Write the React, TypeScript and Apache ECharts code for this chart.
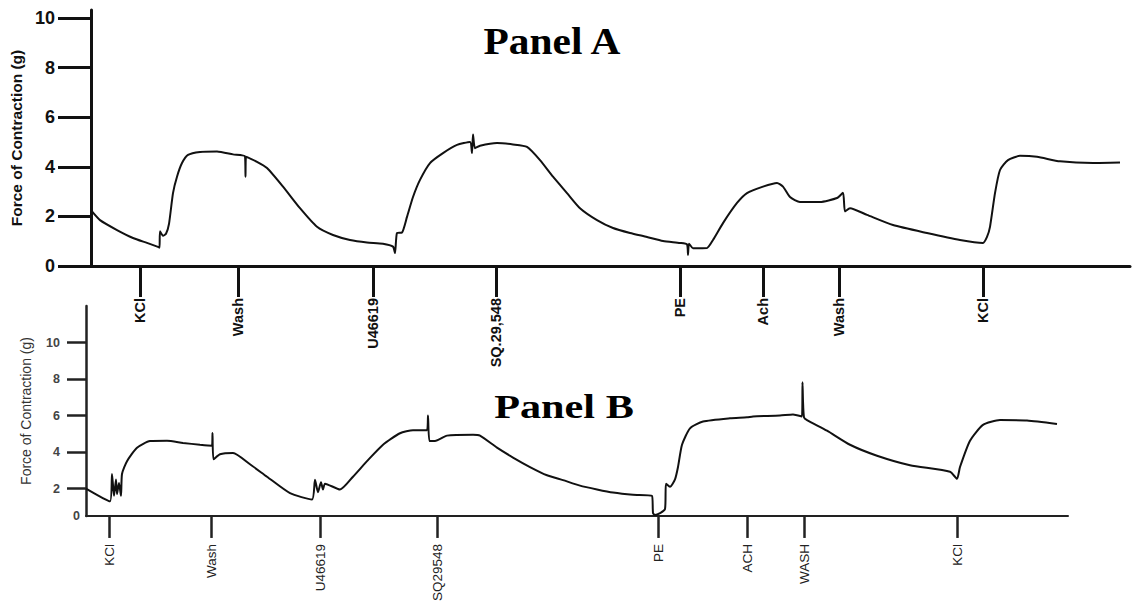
import React, { useEffect, useRef } from "react";
import * as echarts from "echarts";

// ---------- data ----------
const yTicksA = [0, 2, 4, 6, 8, 10];
const yTicksB = [2, 4, 6, 8, 10];
const yBaseB = [0.5]; // baseline of panel B trace axis, labelled "0"

const eventsATime = [4.9, 14.7, 28.2, 40.5, 58.9, 67.2, 74.8, 89.2];
const eventsALabel = ["KCl", "Wash", "U46619", "SQ.29,548", "PE", "Ach", "Wash", "KCl"];
const eventsBTime = [2.3, 12.5, 23.4, 35.1, 57.2, 66.1, 71.8, 87.1];
const eventsBLabel = ["KCl", "Wash", "U46619", "SQ29548", "PE", "ACH", "WASH", "KCl"];

const traceATime = [
  0.1, 0.9, 2.6, 4.2, 5.6, 6.7, 6.85, 6.9, 7.2, 7.5, 7.8, 8.2, 8.6, 9.1, 9.7, 10.9, 12.6, 14.2,
  15.4, 15.45, 15.5, 16.6, 17.6, 19.2, 20.9, 22.6, 24.2, 25.9, 27.6, 29.2, 30.2, 30.4, 30.6, 31.1,
  31.6, 32.2, 32.9, 33.9, 35.2, 36.6, 37.9, 38.1, 38.2, 38.4, 38.9, 40.6, 42.2, 43.6, 44.9, 46.2,
  47.6, 48.9, 50.6, 52.2, 53.9, 55.6, 57.2, 58.9, 59.6, 59.7, 59.8, 60.2, 61.6, 62.2, 63.2, 64.6,
  65.6, 67.2, 68.6, 69.2, 69.9, 70.9, 72.9, 74.6, 75.2, 75.4, 75.9, 77.6, 80.2, 83.6, 86.9, 89.2,
  89.6, 89.9, 90.4, 90.9, 91.7, 92.9, 94.6, 96.9, 100.2, 102.9,
];
const traceAForce = [
  2.2, 1.85, 1.45, 1.13, 0.93, 0.77, 0.74, 1.4, 1.22, 1.3, 1.7, 2.94, 3.6, 4.15, 4.48, 4.6, 4.62, 4.5,
  4.42, 3.6, 4.4, 4.2, 3.95, 3.2, 2.33, 1.58, 1.25, 1.05, 0.95, 0.9, 0.78, 0.52, 1.33, 1.35,
  1.98, 2.78, 3.47, 4.15, 4.55, 4.88, 5.0, 4.55, 5.3, 4.75, 4.85, 4.96, 4.9, 4.8, 4.27, 3.6,
  2.94, 2.33, 1.85, 1.53, 1.33, 1.17, 1.01, 0.93, 0.87, 0.45, 0.9, 0.72, 0.73, 1.05, 1.73, 2.54,
  2.94, 3.2, 3.35, 3.2, 2.78, 2.58, 2.58, 2.74, 2.95, 2.2, 2.33, 2.06, 1.65, 1.33, 1.05, 0.93,
  1.17, 1.58, 2.94, 3.87, 4.27, 4.44, 4.4, 4.22, 4.15, 4.17,
];

const traceBTime = [
  0, 2.4, 2.6, 2.8, 3.0, 3.1, 3.3, 3.5, 3.6, 4.1, 5.1, 6.4, 8.1, 9.7, 11.4, 12.6, 12.65, 12.75,
  13.4, 14.7, 16.4, 18.1, 20.4, 22.6, 22.9, 23.2, 23.5, 23.7, 23.9, 25.4, 26.7, 28.1, 29.7, 31.4,
  32.7, 34.1, 34.2, 34.35, 34.9, 36.1, 38.7, 39.4, 41.1, 42.7, 44.4, 46.1, 47.7, 49.4, 51.1, 52.7,
  54.7, 56.6, 56.7, 56.9, 57.9, 58.0, 58.4, 58.9, 59.2, 59.6, 60.4, 61.7, 64.4, 66.1, 66.7, 69.4,
  70.7, 71.6, 71.65, 71.7, 71.8, 72.1, 74.1, 76.4, 79.1, 82.4, 86.4, 87.1, 87.4, 88.4, 89.7, 91.4,
  94.1, 97.1,
];
const traceBForce = [
  2.0, 1.3, 2.8, 1.6, 2.5, 1.7, 2.3, 1.6, 2.8, 3.5, 4.24, 4.6, 4.62, 4.5, 4.4, 4.35, 5.05, 3.6,
  3.88, 3.95, 3.33, 2.65, 1.75, 1.4, 2.48, 1.8, 2.35, 1.95, 2.27, 1.95, 2.65, 3.5, 4.4, 5.03,
  5.2, 5.2, 6.0, 4.6, 4.6, 4.9, 4.95, 4.9, 4.24, 3.7, 3.18, 2.73, 2.46, 2.16, 1.95, 1.78,
  1.66, 1.6, 0.66, 0.55, 0.88, 2.27, 2.1, 2.5, 3.18, 4.4, 5.3, 5.67, 5.85, 5.9, 5.95, 6.0,
  6.06, 5.95, 7.83, 6.8, 5.9, 5.75, 5.17, 4.4, 3.8, 3.28, 2.92, 2.54, 3.18, 4.62, 5.49, 5.75,
  5.73, 5.54,
];

const yTitle = "Force of Contraction (g)";

function labelFor(times: number[], labels: string[]) {
  return (v: number) => {
    let best = 0;
    for (let i = 1; i < times.length; i++) {
      if (Math.abs(times[i] - v) < Math.abs(times[best] - v)) best = i;
    }
    return labels[best];
  };
}

export default function App() {
  const ref = useRef<HTMLDivElement>(null);
  useEffect(() => {
    if (!ref.current) return;
    const chart = echarts.init(ref.current, undefined, { renderer: "svg" });
    const ink = "#111";
    const sans = "'Liberation Sans', Arial, sans-serif";
    const option: any = {
      animation: false,
      backgroundColor: "#fff",
      grid: [
        { left: 91, top: 10, width: 1039, height: 256 },
        { left: 86, top: 306, width: 982, height: 214 },
      ],
      xAxis: [
        {
          gridIndex: 0,
          type: "value",
          min: 0,
          max: 103.9,
          splitLine: { show: false },
          axisLine: { onZero: false, lineStyle: { color: ink, width: 3 } },
          axisTick: { customValues: eventsATime, length: 31, lineStyle: { color: ink, width: 3 } },
          axisLabel: {
            customValues: eventsATime,
            formatter: labelFor(eventsATime, eventsALabel),
            rotate: 90,
            margin: 32,
            fontSize: 14.5,
            fontWeight: "bold",
            fontFamily: sans,
            color: ink,
          },
        },
        {
          gridIndex: 1,
          type: "value",
          min: 0,
          max: 98.2,
          splitLine: { show: false },
          axisLine: { onZero: false, lineStyle: { color: "#222", width: 2 } },
          axisTick: { customValues: eventsBTime, length: 22, lineStyle: { color: "#222", width: 2.5 } },
          axisLabel: {
            customValues: eventsBTime,
            formatter: labelFor(eventsBTime, eventsBLabel),
            rotate: 90,
            margin: 28,
            fontSize: 13.5,
            fontFamily: sans,
            color: "#222",
          },
        },
      ],
      yAxis: [
        {
          gridIndex: 0,
          type: "value",
          position: "left",
          min: 0,
          max: 10.32,
          name: yTitle,
          nameLocation: "middle",
          nameGap: 62,
          nameTextStyle: { fontSize: 15.5, fontWeight: "bold", fontFamily: sans, color: ink },
          splitLine: { show: false },
          axisLine: { show: true, lineStyle: { color: ink, width: 3 } },
          axisTick: { customValues: yTicksA, length: 33, lineStyle: { color: ink, width: 3 } },
          axisLabel: {
            customValues: yTicksA,
            margin: 36,
            fontSize: 18,
            fontWeight: "bold",
            fontFamily: sans,
            color: ink,
          },
        },
        {
          gridIndex: 1,
          type: "value",
          position: "left",
          min: 0.5,
          max: 12,
          name: yTitle,
          nameLocation: "middle",
          nameGap: 53,
          nameTextStyle: { fontSize: 14, fontFamily: sans, color: "#333" },
          splitLine: { show: false },
          axisLine: { show: true, lineStyle: { color: "#222", width: 2.5 } },
          axisTick: { customValues: yTicksB, length: 19, lineStyle: { color: "#222", width: 2.5 } },
          axisLabel: {
            customValues: yTicksB,
            margin: 26,
            fontSize: 12.5,
            fontWeight: "bold",
            fontFamily: sans,
            color: "#444",
          },
        },
        {
          gridIndex: 1,
          type: "value",
          position: "left",
          offset: 0,
          min: 0.5,
          max: 12,
          splitLine: { show: false },
          axisLine: { show: false },
          axisTick: { show: false },
          axisLabel: {
            customValues: yBaseB,
            formatter: () => "0",
            margin: 6,
            fontSize: 12.5,
            fontWeight: "bold",
            fontFamily: sans,
            color: "#444",
          },
        },
      ],
      series: [
        {
          type: "line",
          xAxisIndex: 0,
          yAxisIndex: 0,
          showSymbol: false,
          smooth: 0.2,
          lineStyle: { color: ink, width: 2 },
          data: traceATime.map((t, i) => [t, traceAForce[i]]),
        },
        {
          type: "line",
          xAxisIndex: 1,
          yAxisIndex: 1,
          showSymbol: false,
          smooth: 0.2,
          lineStyle: { color: ink, width: 2 },
          data: traceBTime.map((t, i) => [t, traceBForce[i]]),
        },
      ],
      graphic: [
        {
          type: "text",
          x: 552,
          y: 41,
          scaleX: 1.12,
          style: {
            text: "Panel A",
            font: "bold 37px 'Liberation Serif', 'Times New Roman', serif",
            fill: "#000",
            align: "center",
            verticalAlign: "middle",
          },
        },
        {
          type: "text",
          x: 564,
          y: 407,
          scaleX: 1.28,
          style: {
            text: "Panel B",
            font: "bold 33px 'Liberation Serif', 'Times New Roman', serif",
            fill: "#000",
            align: "center",
            verticalAlign: "middle",
          },
        },
      ],
    };
    chart.setOption(option);
    return () => chart.dispose();
  }, []);
  return (
    <div
      ref={ref}
      style={{ position: "fixed", left: 0, top: 0, width: 1132, height: 604, background: "#fff" }}
    />
  );
}
